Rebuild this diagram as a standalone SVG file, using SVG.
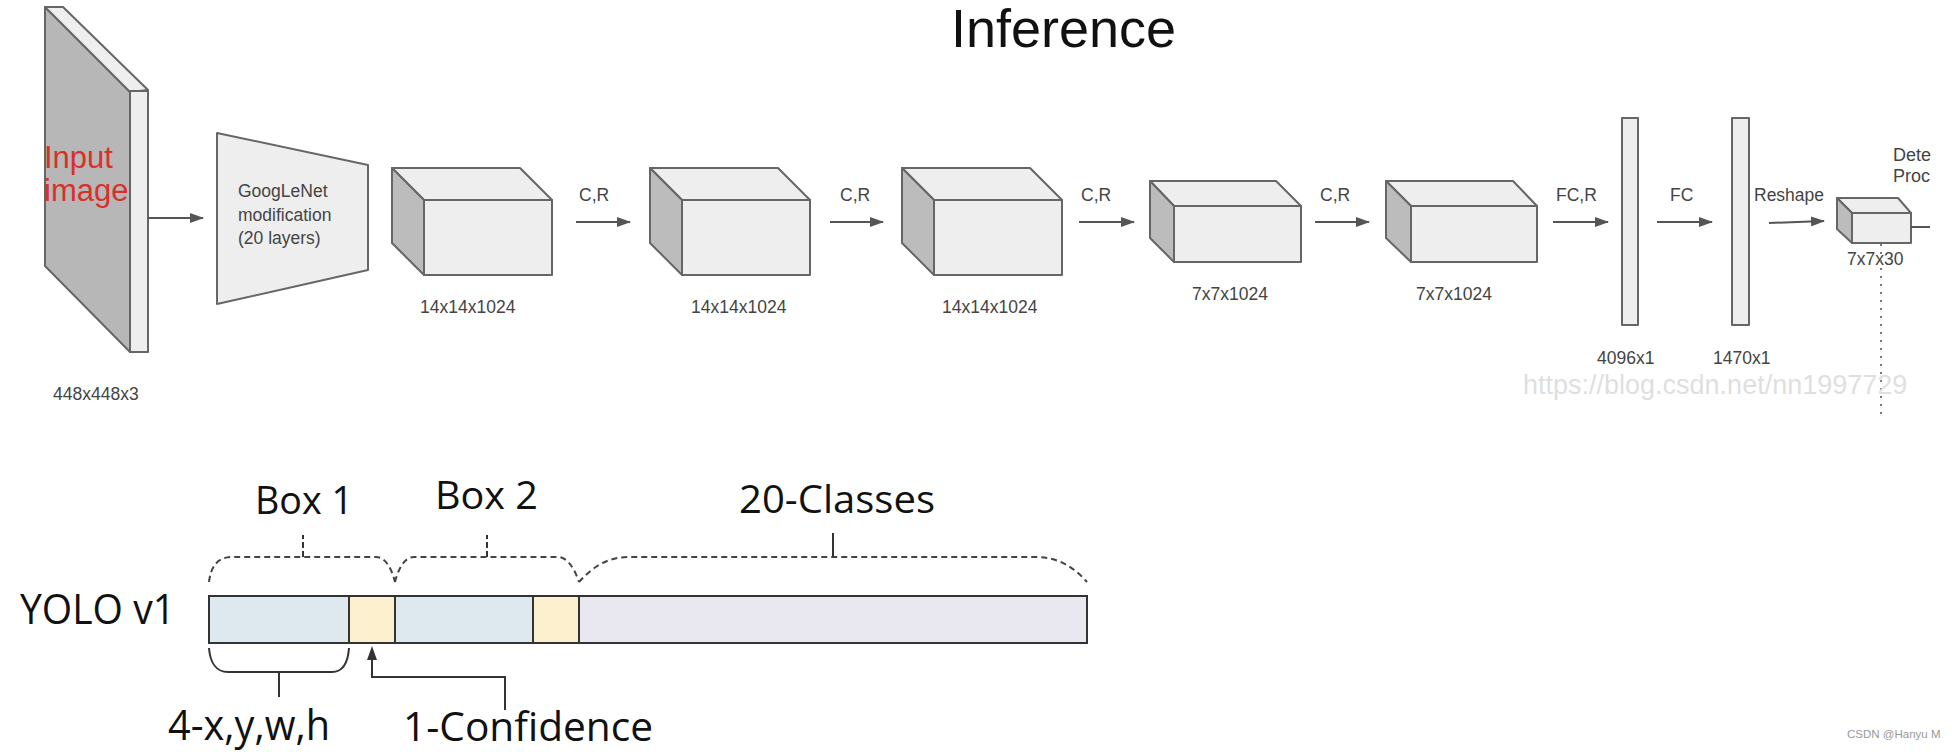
<svg xmlns="http://www.w3.org/2000/svg" width="1952" height="752" viewBox="0 0 1952 752">
<style>
.lbl{font-family:"Liberation Sans",Arial,sans-serif;font-size:17.5px;fill:#444}
.op{font-family:"Liberation Sans",Arial,sans-serif;font-size:17.5px;fill:#444}
.face{fill:#eeeeee;stroke:#666;stroke-width:2;stroke-linejoin:round}
.side{fill:#bcbcbc;stroke:#666;stroke-width:2;stroke-linejoin:round}
.arr{stroke:#555;stroke-width:2;fill:none}
.big{font-family:"Open Sans","Noto Sans",sans-serif;fill:#111}
.seg{stroke:#333;stroke-width:2}
.dash{fill:none;stroke:#444;stroke-width:2;stroke-dasharray:6 4}
.solid{fill:none;stroke:#333;stroke-width:2}
</style>
<defs>
<marker id="ah" markerWidth="14" markerHeight="10" refX="13" refY="5" orient="auto" markerUnits="userSpaceOnUse">
<path d="M0,0 L14,5 L0,10 Z" fill="#555"/>
</marker>
</defs>
<rect width="1952" height="752" fill="#ffffff"/>

<text x="951" y="47" font-family="'Liberation Sans',Arial,sans-serif" font-size="54" fill="#111">Inference</text>

<g id="input">
<polygon class="side" points="45,7 130,92 130,352 45,266" style="fill:#b7b7b7"/>
<polygon class="face" points="45,7 63,7 148,90 130,92"/>
<rect class="face" x="130" y="91" width="18" height="261"/>
<text x="44" y="168" font-family="'Liberation Sans',Arial,sans-serif" font-size="31" fill="#d9302c">Input</text>
<text x="44" y="201" font-family="'Liberation Sans',Arial,sans-serif" font-size="31" fill="#d9302c">image</text>
<text class="lbl" x="53" y="400">448x448x3</text>
</g>

<g id="googlenet">
<polygon class="face" points="217,133 368,165 368,270 217,304"/>
<text class="lbl" x="238" y="197">GoogLeNet</text>
<text class="lbl" x="238" y="221">modification</text>
<text class="lbl" x="238" y="244">(20 layers)</text>
</g>

<g id="box1">
<polygon class="face" points="392,168 520,168 552,200 424,200"/>
<polygon class="side" points="392,168 424,200 424,275 392,243"/>
<rect class="face" x="424" y="200" width="128" height="75"/>
<text class="lbl" x="420" y="313">14x14x1024</text>
</g>

<g id="box2">
<polygon class="face" points="650,168 778,168 810,200 682,200"/>
<polygon class="side" points="650,168 682,200 682,275 650,243"/>
<rect class="face" x="682" y="200" width="128" height="75"/>
<text class="lbl" x="691" y="313">14x14x1024</text>
</g>

<g id="box3">
<polygon class="face" points="902,168 1030,168 1062,200 934,200"/>
<polygon class="side" points="902,168 934,200 934,275 902,243"/>
<rect class="face" x="934" y="200" width="128" height="75"/>
<text class="lbl" x="942" y="313">14x14x1024</text>
</g>

<g id="box4">
<polygon class="face" points="1150,181 1276,181 1301,206 1174,206"/>
<polygon class="side" points="1150,181 1174,206 1174,262 1150,238"/>
<rect class="face" x="1174" y="206" width="127" height="56"/>
<text class="lbl" x="1192" y="300">7x7x1024</text>
</g>

<g id="box5">
<polygon class="face" points="1386,181 1513,181 1537,206 1411,206"/>
<polygon class="side" points="1386,181 1411,206 1411,262 1386,238"/>
<rect class="face" x="1411" y="206" width="126" height="56"/>
<text class="lbl" x="1416" y="300">7x7x1024</text>
</g>

<g id="fc1">
<rect class="face" x="1622" y="118" width="16" height="207"/>
<text class="lbl" x="1597" y="364">4096x1</text>
</g>

<g id="fc2">
<rect class="face" x="1732" y="118" width="17" height="207"/>
<text class="lbl" x="1713" y="364">1470x1</text>
</g>

<g id="out">
<polygon class="face" points="1837,198 1898,198 1911,213 1852,213"/>
<polygon class="side" points="1837,198 1852,213 1852,243 1837,229"/>
<rect class="face" x="1852" y="213" width="59" height="30"/>
<text class="lbl" x="1847" y="265">7x7x30</text>
</g>

<g id="detect">
<text class="lbl" x="1893" y="161" style="font-size:18px">Dete</text>
<text class="lbl" x="1893" y="182" style="font-size:18px">Proc</text>
</g>

<g id="connectors">
<line class="arr" x1="148" y1="218" x2="203" y2="218" marker-end="url(#ah)"/>
<line class="arr" x1="576" y1="222" x2="630" y2="222" marker-end="url(#ah)"/>
<line class="arr" x1="830" y1="222" x2="883" y2="222" marker-end="url(#ah)"/>
<line class="arr" x1="1079" y1="222" x2="1134" y2="222" marker-end="url(#ah)"/>
<line class="arr" x1="1315" y1="222" x2="1369" y2="222" marker-end="url(#ah)"/>
<line class="arr" x1="1553" y1="222" x2="1608" y2="222" marker-end="url(#ah)"/>
<line class="arr" x1="1657" y1="222" x2="1712" y2="222" marker-end="url(#ah)"/>
<line class="arr" x1="1769" y1="223" x2="1824" y2="221" marker-end="url(#ah)"/>
<line class="arr" x1="1911" y1="227" x2="1930" y2="227"/>
<line x1="1881" y1="244" x2="1881" y2="415" stroke="#777" stroke-width="2" stroke-dasharray="2 6"/>
<text class="op" x="579" y="201">C,R</text>
<text class="op" x="840" y="201">C,R</text>
<text class="op" x="1081" y="201">C,R</text>
<text class="op" x="1320" y="201">C,R</text>
<text class="op" x="1556" y="201">FC,R</text>
<text class="op" x="1670" y="201">FC</text>
<text class="op" x="1754" y="201">Reshape</text>
</g>

<text x="1523" y="394" font-family="'Liberation Sans',Arial,sans-serif" font-size="27" fill="#dfdfdf">https://blog.csdn.net/nn1997729</text>

<g id="yolo">
<text class="big" x="20" y="624" font-size="42" textLength="155" lengthAdjust="spacingAndGlyphs">YOLO v1</text>
<rect class="seg" x="209" y="596" width="140" height="47" fill="#dde9ef"/>
<rect class="seg" x="349" y="596" width="46" height="47" fill="#fcf0cf"/>
<rect class="seg" x="395" y="596" width="138" height="47" fill="#dde9ef"/>
<rect class="seg" x="533" y="596" width="46" height="47" fill="#fcf0cf"/>
<rect class="seg" x="579" y="596" width="508" height="47" fill="#e9e7ef"/>
</g>

<g id="braces">
<path class="dash" d="M209,582 C211,566 218,557 232,557 L376,557 C386,557 392,570 395,582"/>
<path class="dash" d="M395,582 C398,570 404,557 414,557 L558,557 C568,557 575,570 579,582"/>
<path class="dash" d="M579,582 C590,570 605,557 628,557 L1037,557 C1058,557 1075,568 1087,582"/>
<line class="solid" x1="303" y1="557" x2="303" y2="535" stroke-dasharray="6 3"/>
<line class="solid" x1="487" y1="557" x2="487" y2="535" stroke-dasharray="6 3"/>
<line class="solid" x1="833" y1="557" x2="833" y2="533"/>
<path class="solid" d="M209,648 C210,662 216,672 228,672 L332,672 C343,672 348,662 349,648"/>
<line class="solid" x1="279" y1="672" x2="279" y2="697"/>
<polyline class="solid" points="505,710 505,677 372,677 372,658"/>
<polygon points="372,646 367,660 377,660" fill="#333"/>
<text class="big" x="255" y="514" font-size="38" textLength="98" lengthAdjust="spacingAndGlyphs">Box 1</text>
<text class="big" x="435" y="509" font-size="38" textLength="103" lengthAdjust="spacingAndGlyphs">Box 2</text>
<text class="big" x="739" y="513" font-size="38" textLength="196" lengthAdjust="spacingAndGlyphs">20-Classes</text>
<text class="big" x="168" y="740" font-size="42" textLength="162" lengthAdjust="spacingAndGlyphs">4-x,y,w,h</text>
<text class="big" x="403" y="741" font-size="40" textLength="250" lengthAdjust="spacingAndGlyphs">1-Confidence</text>
</g>

<text x="1847" y="738" font-family="'Liberation Sans',Arial,sans-serif" font-size="11.5" fill="#999">CSDN @Hanyu M</text>
</svg>
